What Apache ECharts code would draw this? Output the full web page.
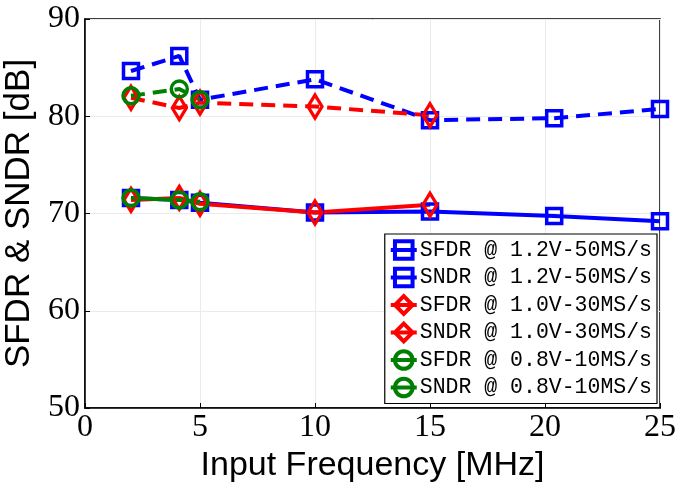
<!DOCTYPE html>
<html>
<head>
<meta charset="utf-8">
<script src="https://cdn.jsdelivr.net/npm/echarts@6/dist/echarts.min.js"></script>
<style>html,body{margin:0;padding:0;background:#fff}#c{width:678px;height:483px}</style>
</head>
<body>
<div id="c"></div>
<script>
var freq12 = [2, 4.1, 5, 10, 15, 20.4, 25];
var sfdr12 = [84.65, 86.2, 81.7, 83.8, 79.6, 79.8, 80.75];
var sndr12 = [71.6, 71.4, 71.1, 70.1, 70.2, 69.75, 69.2];
var freq10 = [2, 4.1, 5, 10, 15];
var sfdr10 = [81.9, 80.85, 81.4, 81.0, 80.1];
var sndr10 = [71.4, 71.6, 71.0, 70.1, 70.9];
var freq08 = [2, 4.1, 5];
var sfdr08 = [82.1, 82.8, 81.7];
var sndr08 = [71.6, 71.4, 71.2];
var names = ['SFDR @ 1.2V-50MS/s','SNDR @ 1.2V-50MS/s','SFDR @ 1.0V-30MS/s','SNDR @ 1.0V-30MS/s','SFDR @ 0.8V-10MS/s','SNDR @ 0.8V-10MS/s'];

function pairs(xs, ys){ return xs.map(function(x,i){ return [x, ys[i]]; }); }
function mk(name, xs, ys, color, dashed, symbol, size){
  return {
    name: name, type: 'line', data: pairs(xs, ys),
    symbol: symbol, symbolSize: size, showSymbol: true,
    lineStyle: {color: color, width: 4, type: dashed ? [14, 8] : 'solid'},
    itemStyle: {color: 'rgba(255,255,255,0)', borderColor: color, borderWidth: 3.5},
    emphasis: {disabled: true},
    animation: false
  };
}
var blue = '#0000ff', red = '#ff0000', green = '#008000';
var chart = echarts.init(document.getElementById('c'));
chart.setOption({
  animation: false,
  grid: {left: 85, right: 18, top: 19, bottom: 75, outerBoundsMode: 'none', containLabel: false, show: true, borderColor: '#000', borderWidth: 1.5, backgroundColor: 'rgba(0,0,0,0)'},
  xAxis: {
    type: 'value', min: 0, max: 25, interval: 5,
    name: 'Input Frequency [MHz]', nameLocation: 'middle', nameGap: 28,
    nameTextStyle: {fontFamily: 'Liberation Sans', fontSize: 34, color: '#000'},
    axisLine: {show: true, onZero: false, lineStyle: {color: '#000', width: 1.5}},
    axisTick: {inside: true, length: 5, lineStyle: {color: '#000'}},
    axisLabel: {fontFamily: 'Liberation Serif', fontSize: 32, color: '#000', margin: 4},
    splitLine: {show: true, lineStyle: {color: '#ebebeb', width: 1}}
  },
  yAxis: {
    type: 'value', min: 50, max: 90, interval: 10,
    name: 'SFDR & SNDR [dB]', nameLocation: 'middle', nameGap: 42,
    nameTextStyle: {fontFamily: 'Liberation Sans', fontSize: 35, color: '#000'},
    axisLine: {show: true, lineStyle: {color: '#000', width: 1.5}},
    axisTick: {inside: true, length: 5, lineStyle: {color: '#000'}},
    axisLabel: {fontFamily: 'Liberation Serif', fontSize: 32, color: '#000', margin: 5},
    splitLine: {show: true, lineStyle: {color: '#ebebeb', width: 1}}
  },
  legend: {
    orient: 'vertical', right: 21, top: 234,
    backgroundColor: '#fff', borderColor: '#000', borderWidth: 1.2,
    padding: [5, 5, 5, 4], itemGap: 5.5, itemWidth: 26, itemHeight: 22,
    itemStyle: {borderWidth: 4},
    lineStyle: {width: 4, type: 'solid'},
    textStyle: {fontFamily: 'Liberation Mono', fontSize: 21.5, color: '#000', padding: [0,0,0,-2]},
    data: names
  },
  series: [
    mk(names[0], freq12, sfdr12, blue, true, 'rect', 15),
    mk(names[1], freq12, sndr12, blue, false, 'rect', 15),
    mk(names[2], freq10, sfdr10, red, true, 'diamond', [14, 23]),
    mk(names[3], freq10, sndr10, red, false, 'diamond', [14, 23]),
    mk(names[4], freq08, sfdr08, green, true, 'circle', 16),
    mk(names[5], freq08, sndr08, green, false, 'circle', 16)
  ]
});
</script>
</body>
</html>
